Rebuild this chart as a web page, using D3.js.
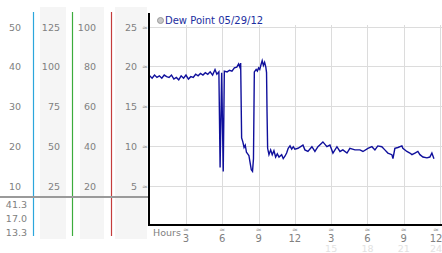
<!DOCTYPE html>
<html>
<head>
<meta charset="utf-8">
<script src="https://cdn.jsdelivr.net/npm/d3@7"></script>
<style>
  body { margin: 0; background: #fff; }
  svg { display: block; font-family: "DejaVu Sans", Verdana, sans-serif; }
</style>
</head>
<body>
<svg width="442" height="253"></svg>
<script>
// dew point readings, hour of day (0-24) and value
var hours = [0, 0.2, 0.4, 0.6, 0.8, 1.0, 1.2, 1.4, 1.6, 1.8, 2.0, 2.2, 2.4, 2.6, 2.8, 3.0, 3.2, 3.4, 3.6, 3.8,
  4.0, 4.2, 4.4, 4.6, 4.8, 5.0, 5.2, 5.4, 5.55, 5.72, 5.82, 5.95, 6.08, 6.17,
  6.4, 6.6, 6.8, 7.0, 7.2, 7.35, 7.45, 7.52, 7.6, 7.7, 7.8, 7.9, 8.0, 8.1, 8.2, 8.3, 8.4, 8.5, 8.58, 8.65,
  8.8, 8.9, 9.0, 9.1, 9.2, 9.3, 9.4, 9.5, 9.6, 9.66, 9.7, 9.75,
  9.86, 10.0, 10.13, 10.27, 10.41, 10.55, 10.69, 10.91, 11.04, 11.18, 11.32, 11.45, 11.6, 11.74, 11.87, 12.0,
  12.26, 12.67, 12.83, 13.08, 13.41, 13.66, 13.91, 14.32, 14.65, 14.9, 15.15, 15.48, 15.73, 15.97, 16.31, 16.55, 16.97, 17.38, 17.63,
  18.04, 18.37, 18.62, 18.86, 19.19, 19.44, 19.69, 20.02, 20.11, 20.27, 20.52, 20.85, 20.93, 21.26, 21.51, 21.68, 21.93, 22.17, 22.34, 22.59, 22.92, 23.16, 23.33, 23.5];
var dewPoint = [18.8, 18.5, 18.9, 18.6, 18.8, 18.5, 18.9, 18.7, 18.6, 18.9, 18.4, 18.6, 18.3, 18.8, 18.5, 18.9, 18.4, 18.7, 18.6, 19.0,
  18.8, 19.1, 18.9, 19.2, 19.0, 19.3, 18.9, 19.6, 19.0, 19.3, 7.3, 19.2, 6.8, 19.4,
  19.3, 19.5, 19.4, 19.8, 19.9, 20.3, 19.9, 20.4, 11.0, 10.5, 9.8, 10.1, 9.2, 9.0, 8.8, 7.9, 7.0, 6.8, 8.4, 19.3,
  19.6, 19.4, 19.8, 19.6, 20.2, 20.7, 20.1, 20.5, 19.9, 19.2, 14.3, 9.7,
  8.9, 9.5, 8.9, 9.4, 8.6, 9.0, 8.6, 8.9, 8.4, 8.7, 9.1, 9.7, 10.0, 9.6, 9.9, 9.6,
  9.7, 10.1, 9.5, 9.3, 9.9, 9.3, 9.9, 10.5, 9.9, 10.1, 9.1, 9.9, 9.3, 9.5, 9.1, 9.7, 9.5, 9.5, 9.3,
  9.7, 9.9, 9.5, 10.0, 9.9, 9.5, 9.1, 8.9, 8.4, 9.7, 9.8, 10.0, 9.7, 9.3, 9.1, 8.9, 9.1, 9.3, 8.9, 8.6, 8.5, 8.6, 9.1, 8.4];

// left scale columns (same rows, different units)
var colA = [10, 20, 30, 40, 50];
var colB = [25, 50, 75, 100, 125];
var colC = [20, 40, 60, 80, 100];
var dewTicks = [5, 10, 15, 20, 25];
var summary = ["41.3", "17.0", "13.3"];
var hourTicks = [3, 6, 9, 12, 15, 18, 21, 24];
var legendText = "Dew Point 05/29/12";

var svg = d3.select("svg");

var x = d3.scaleLinear().domain([0, 24]).range([149.7, 440]);
var y = d3.scaleLinear().domain([0, 25]).range([225.5, 26.5]);
var yA = d3.scaleLinear().domain([0, 50]).range(y.range());
var yB = d3.scaleLinear().domain([0, 125]).range(y.range());
var yC = d3.scaleLinear().domain([0, 100]).range(y.range());

// column backgrounds
var bands = [[40, 26], [80, 24], [115, 32]];
svg.append("g").selectAll("rect").data(bands).enter().append("rect")
  .attr("x", function(d) { return d[0]; })
  .attr("y", 7)
  .attr("width", function(d) { return d[1]; })
  .attr("height", 232)
  .attr("fill", "#f5f5f5");

// coloured separators
var seps = [[33, "#2ba6dc"], [72, "#3cac3c"], [111, "#c43c3c"]];
svg.append("g").selectAll("line").data(seps).enter().append("line")
  .attr("x1", function(d) { return d[0] + 0.5; })
  .attr("x2", function(d) { return d[0] + 0.5; })
  .attr("y1", 12).attr("y2", 236)
  .attr("stroke", function(d) { return d[1]; })
  .attr("stroke-width", 1.2);

// grid
var grid = svg.append("g").attr("stroke", "#dcdcdc").attr("stroke-width", 1);
grid.selectAll("line.h").data(dewTicks).enter().append("line")
  .attr("class", "h")
  .attr("x1", 149).attr("x2", 442)
  .attr("y1", function(d) { return Math.round(y(d)) + 0.5; })
  .attr("y2", function(d) { return Math.round(y(d)) + 0.5; });
grid.selectAll("line.v").data(hourTicks).enter().append("line")
  .attr("class", "v")
  .attr("y1", 25).attr("y2", 225)
  .attr("x1", function(d) { return Math.round(x(d)) + 0.5; })
  .attr("x2", function(d) { return Math.round(x(d)) + 0.5; });

// left column labels
function column(vals, scale, right) {
  svg.append("g").selectAll("text").data(vals).enter().append("text")
    .attr("x", right)
    .attr("y", function(d) { return scale(d) + 4; })
    .attr("text-anchor", "end")
    .attr("font-size", 9.5)
    .attr("fill", "#808080")
    .text(function(d) { return d; });
}
column(colA, yA, 21);
column(colB, yB, 60);
column(colC, yC, 96);
column(dewTicks, y, 137);

// tick marks glyphs
svg.append("g").selectAll("text").data(dewTicks).enter().append("text")
  .attr("x", 145)
  .attr("y", function(d) { return y(d) + 3; })
  .attr("text-anchor", "middle")
  .attr("font-size", 7)
  .attr("fill", "#999")
  .text("\u2248");

// divider and summary values
svg.append("line")
  .attr("x1", 0).attr("x2", 148)
  .attr("y1", 197).attr("y2", 197)
  .attr("stroke", "#9a9a9a").attr("stroke-width", 2);
svg.append("g").selectAll("text").data(summary).enter().append("text")
  .attr("x", 27)
  .attr("y", function(d, i) { return 207.5 + i * 14; })
  .attr("text-anchor", "end")
  .attr("font-size", 9.5)
  .attr("fill", "#808080")
  .text(function(d) { return d; });

// dew point line
var line = d3.line()
  .x(function(d, i) { return x(hours[i]); })
  .y(function(d) { return y(d); });
svg.append("path")
  .datum(dewPoint)
  .attr("d", line)
  .attr("fill", "none")
  .attr("stroke", "#10109c")
  .attr("stroke-width", 1.4);

// axes
svg.append("line")
  .attr("x1", 149).attr("x2", 149)
  .attr("y1", 13).attr("y2", 226)
  .attr("stroke", "#000").attr("stroke-width", 2);
svg.append("line")
  .attr("x1", 148).attr("x2", 442)
  .attr("y1", 225).attr("y2", 225)
  .attr("stroke", "#000").attr("stroke-width", 2);

// x labels
svg.append("text")
  .attr("x", 153).attr("y", 236)
  .attr("font-size", 9.5)
  .attr("fill", "#808080")
  .text("Hours");
var xt = svg.append("g").selectAll("g").data(hourTicks).enter().append("g")
  .attr("transform", function(d) { return "translate(" + Math.min(x(d), 436) + ",0)"; });
xt.append("text")
  .attr("y", 232)
  .attr("text-anchor", "middle")
  .attr("font-size", 7)
  .attr("fill", "#999")
  .text("\u2248");
xt.append("text")
  .attr("y", 242)
  .attr("text-anchor", "middle")
  .attr("font-size", 10)
  .attr("fill", "#808080")
  .text(function(d) { return d > 12 ? d - 12 : d; });
xt.filter(function(d) { return d > 12; }).append("text")
  .attr("y", 252)
  .attr("text-anchor", "middle")
  .attr("font-size", 9.5)
  .attr("fill", "#e2e2e2")
  .text(function(d) { return d; });

// legend
svg.append("circle")
  .attr("cx", 160.5).attr("cy", 20.5).attr("r", 3)
  .attr("fill", "#c8c8c8").attr("stroke", "#999");
svg.append("text")
  .attr("x", 165).attr("y", 24)
  .attr("font-size", 10)
  .attr("fill", "#1c2ea0")
  .text(legendText);
</script>
</body>
</html>
